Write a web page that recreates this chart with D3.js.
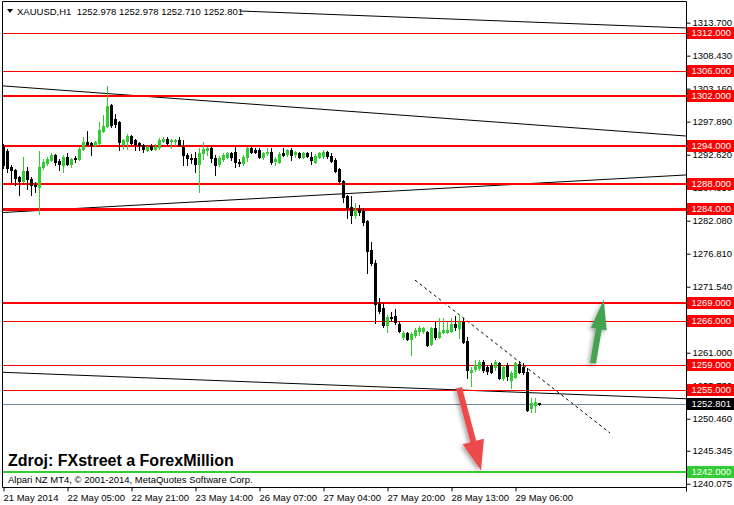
<!DOCTYPE html>
<html><head><meta charset="utf-8">
<script src="https://cdn.jsdelivr.net/npm/d3@7"></script>
<style>
html,body{margin:0;padding:0;background:#fff;}
svg{display:block;}
text{font-family:"Liberation Sans",Arial,sans-serif;}
</style>
</head><body>
<svg id="chart" width="734" height="505"></svg>
<script>
// ---------- DATA ----------
const symbolTitle = "XAUUSD,H1  1252.978 1252.978 1252.710 1252.801";
const opens = [1293.9,1293.2,1290.65,1290.2,1289.05,1288.4,1290.0,1288.7,1287.8,1287.45,
1290.65,1291.3,1291.77,1292.57,1291.6,1290.97,1292.25,1291.1,1292.1,1291.9,
1293.5,1294.65,1294.5,1294.16,1294.5,1296.4,1297.2,1300.55,1298.3,1297.84,
1294.3,1294.8,1295.6,1294.96,1294.5,1294.16,1293.37,1294.0,1293.5,1293.85,
1294.8,1295.1,1294.8,1294.8,1294.96,1293.85,1292.57,1292.1,1292.1,1291.1,
1292.9,1293.37,1293.7,1292.1,1291.1,1291.9,1292.25,1292.9,1293.05,1291.45,
1291.3,1292.25,1293.7,1293.37,1293.37,1292.25,1292.9,1293.05,1291.6,1291.45,
1292.9,1292.7,1293.37,1292.7,1292.9,1292.25,1292.9,1292.25,1291.45,1292.25,
1292.4,1293.05,1292.4,1291.77,1290.35,1288.4,1286.0,1284.27,1283.0,1283.95,
1283.63,1282.0,1277.4,1275.3,1268.77,1268.1,1265.4,1266.7,1266.85,1265.57,
1263.5,1264.14,1263.18,1263.8,1264.45,1264.45,1264.3,1262.38,1264.93,1263.5,
1264.3,1264.3,1264.45,1265.57,1264.93,1265.9,1262.86,1257.9,1258.38,1258.54,
1259.5,1258.7,1259.0,1258.7,1259.34,1256.95,1259.0,1256.63,1257.1,1259.18,
1258.7,1257.9,1252.15,1252.6,1252.978];
const highs = [1294.3,1293.5,1291.0,1290.4,1289.2,1292.25,1290.65,1289.0,1288.3,1293.2,
1291.9,1292.25,1292.9,1292.7,1291.9,1292.5,1292.9,1292.1,1292.4,1293.85,
1295.45,1296.4,1294.65,1294.8,1297.8,1298.96,1303.6,1300.7,1299.1,1298.0,
1295.1,1295.9,1295.76,1295.1,1294.65,1294.3,1294.0,1294.3,1294.3,1295.3,
1295.45,1295.45,1295.1,1295.1,1295.45,1294.96,1292.9,1292.7,1293.05,1293.7,
1294.65,1293.85,1294.0,1292.57,1292.4,1292.9,1293.05,1293.05,1293.85,1291.9,
1292.57,1293.85,1293.85,1293.7,1293.7,1293.05,1293.7,1293.7,1292.25,1293.05,
1293.7,1293.5,1293.7,1293.2,1293.05,1293.05,1293.05,1293.05,1292.7,1293.05,
1293.37,1293.2,1292.9,1292.1,1290.5,1288.58,1286.2,1286.0,1284.9,1284.6,
1284.1,1282.2,1278.67,1275.8,1269.7,1268.9,1267.0,1267.5,1268.0,1265.9,
1264.45,1264.3,1264.3,1264.9,1265.25,1265.1,1264.45,1265.1,1265.9,1266.53,
1266.53,1265.9,1266.53,1266.85,1267.2,1266.53,1263.5,1258.7,1259.82,1259.82,
1259.82,1259.0,1259.34,1259.82,1259.5,1259.0,1259.34,1258.06,1259.5,1259.66,
1259.34,1258.54,1253.75,1253.75,1252.978];
const lows = [1290.5,1289.85,1288.3,1287.8,1286.2,1288.3,1287.1,1286.2,1286.6,1283.15,
1290.35,1291.0,1291.6,1291.0,1290.2,1289.85,1291.0,1290.65,1291.45,1291.77,
1293.37,1294.16,1292.57,1294.0,1294.3,1296.24,1297.0,1297.0,1297.0,1293.37,
1293.5,1293.5,1294.3,1293.37,1293.37,1293.05,1293.2,1293.37,1293.37,1293.5,
1294.65,1294.16,1293.7,1294.16,1294.0,1290.97,1290.97,1291.3,1289.85,1286.65,
1291.9,1292.57,1291.45,1289.38,1290.8,1291.6,1292.1,1291.77,1290.65,1290.8,
1290.97,1291.6,1292.9,1292.9,1292.1,1291.9,1292.57,1291.1,1290.97,1291.3,
1292.4,1292.4,1291.77,1292.25,1292.1,1292.1,1292.25,1291.1,1291.3,1292.1,
1292.1,1292.1,1291.45,1289.85,1288.25,1285.07,1282.5,1281.7,1282.5,1283.0,
1281.39,1273.72,1275.0,1265.74,1267.3,1265.1,1264.3,1266.05,1265.57,1264.3,
1263.18,1263.0,1260.62,1263.5,1263.8,1264.14,1262.1,1262.23,1263.18,1263.3,
1264.14,1264.14,1264.3,1264.61,1263.34,1262.55,1256.95,1255.66,1258.0,1258.22,
1257.9,1257.6,1257.75,1258.22,1256.8,1256.63,1256.63,1255.35,1256.95,1257.75,
1257.6,1251.67,1251.5,1251.5,1252.71];
const closes = [1291.0,1290.5,1290.17,1288.9,1288.4,1290.0,1288.7,1287.8,1287.6,1290.65,
1291.45,1291.9,1292.57,1291.45,1291.1,1292.25,1291.1,1291.9,1291.9,1293.5,
1294.65,1294.3,1294.16,1294.65,1296.56,1297.2,1300.4,1297.36,1297.5,1294.65,
1294.96,1295.6,1294.5,1294.3,1294.16,1293.5,1293.85,1293.5,1293.85,1294.96,
1295.1,1294.5,1294.96,1294.96,1294.16,1292.57,1292.1,1291.9,1291.1,1292.9,
1293.5,1293.7,1292.1,1290.97,1292.1,1292.57,1292.9,1292.25,1291.45,1291.3,
1292.25,1293.7,1293.05,1293.05,1292.25,1292.9,1293.05,1291.45,1291.9,1292.7,
1292.57,1293.37,1292.57,1293.05,1292.25,1292.9,1292.4,1291.77,1292.4,1292.9,
1293.05,1292.4,1291.6,1290.0,1288.4,1285.9,1284.27,1283.0,1283.8,1283.47,
1281.87,1277.24,1275.3,1268.77,1267.65,1265.4,1266.7,1266.5,1265.9,1264.45,
1264.14,1263.18,1263.98,1264.6,1264.93,1264.93,1262.23,1264.93,1263.5,1264.3,
1264.61,1264.61,1265.57,1265.1,1265.9,1262.7,1258.22,1258.22,1259.0,1259.5,
1258.22,1258.06,1257.9,1259.5,1256.95,1258.7,1257.27,1257.75,1259.34,1257.9,
1257.9,1251.83,1252.95,1253.1,1252.801];

// horizontal levels
const redLevels = [1312, 1306, 1302, 1294, 1288, 1284, 1269, 1266, 1259, 1255];
const greenLevel = 1242;
const currentPrice = 1252.801;

// axis ticks
const yTickValues = [1313.700,1308.430,1303.160,1297.890,1292.620,1287.350,1282.080,1276.810,1271.540,1266.270,1261.000,1255.730,1250.460,1245.345,1240.075];
const xTickBars = [0,16,32,48,64,80,96,112,128];
const xTickLabels = ["21 May 2014","22 May 05:00","22 May 21:00","23 May 14:00","26 May 07:00","27 May 04:00","27 May 20:00","28 May 13:00","29 May 06:00"];

// trend lines: [barStart, priceStart, barEnd, priceEnd]
const trendA = [59.25, 1315.56, 170.75, 1312.85];
const trendB = [0, 1303.6, 170.75, 1295.6];
const trendC = [0, 1283.39, 170.75, 1289.38];
const trendD = [0, 1257.87, 170.75, 1253.65];
const trendDashed = [103, 1272.6, 151.75, 1248.18];

// arrows: [barStart, priceStart, barTip, priceTip]
const arrowDown = [114, 1255.4, 119.5, 1242.2];
const arrowUp = [147.5, 1259.3, 150.2, 1269.5];

const sourceText = "Zdroj: FXstreet a ForexMillion";
const copyrightText = "Alpari NZ MT4, © 2001-2014, MetaQuotes Software Corp.";

// ---------- LAYOUT ----------
const L = 2.5, R = 686.5, T = 1.5, B = 487.5;
const x = d3.scaleLinear().domain([0, 170.75]).range([3, 686]);
const y = d3.scaleLinear().domain([1242, 1312]).range([471.7, 33.3]);
const GREEN = "#32CD32", RED = "#FF0000";
const levelWidth = {1312:1,1306:1,1302:2,1294:2,1288:2,1284:3,1269:2,1266:1,1259:1,1255:1};

const svg = d3.select("#chart");
const defs = svg.append("defs");
defs.append("clipPath").attr("id","plot").append("rect")
  .attr("x",L).attr("y",T).attr("width",R-L).attr("height",B-T);
const f = defs.append("filter").attr("id","shadow").attr("x","-50%").attr("y","-50%").attr("width","200%").attr("height","200%");
f.append("feDropShadow").attr("dx",-2).attr("dy",2).attr("stdDeviation",2).attr("flood-color","#000").attr("flood-opacity",0.35);

const plot = svg.append("g").attr("clip-path","url(#plot)");

// trend lines
function trend(t, dashed){
  plot.append("line")
    .attr("x1",x(t[0])).attr("y1",y(t[1])).attr("x2",x(t[2])).attr("y2",y(t[3]))
    .attr("stroke","#000").attr("stroke-width",1)
    .attr("stroke-dasharray", dashed ? "3,3" : null);
}
[trendA,trendB,trendC,trendD].forEach(t=>trend(t,false));
trend(trendDashed,true);

// horizontal levels
redLevels.forEach(v=>{
  const w = levelWidth[v];
  const yy = Math.round(y(v)) + (w%2 ? 0.5 : 0);
  plot.append("line").attr("x1",L).attr("x2",R).attr("y1",yy).attr("y2",yy)
    .attr("stroke",RED).attr("stroke-width",w);
});
{
  const yy = Math.round(y(greenLevel));
  plot.append("line").attr("x1",L).attr("x2",R).attr("y1",yy).attr("y2",yy)
    .attr("stroke",GREEN).attr("stroke-width",2);
  const yc = Math.round(y(currentPrice)) + 0.5;
  plot.append("line").attr("x1",L).attr("x2",R).attr("y1",yc).attr("y2",yc)
    .attr("stroke","#778899").attr("stroke-width",1);
}

// candles
const candles = opens.map((o,i)=>({i, o, h:highs[i], l:lows[i], c:closes[i]}));
const cg = plot.append("g");
candles.forEach(d=>{
  const cx = Math.round(x(d.i));
  const col = d.c > d.o ? GREEN : "#000";
  cg.append("line").attr("x1",cx+0.5).attr("x2",cx+0.5)
    .attr("y1",Math.round(y(d.h))).attr("y2",Math.round(y(d.l))+1)
    .attr("stroke",col).attr("stroke-width",1);
  const y1 = Math.round(y(Math.max(d.o,d.c))), y2 = Math.round(y(Math.min(d.o,d.c)));
  cg.append("rect").attr("x",cx-1).attr("y",y1).attr("width",3).attr("height",Math.max(1,y2-y1+1))
    .attr("fill",col);
});

// arrows
function arrow(a, color, sw, hl, hw){
  const sx=x(a[0]), sy=y(a[1]), tx=x(a[2]), ty=y(a[3]);
  const dx=tx-sx, dy=ty-sy, len=Math.hypot(dx,dy);
  const ux=dx/len, uy=dy/len, nx=-uy, ny=ux;
  const bx=tx-ux*hl, by=ty-uy*hl;
  const pts=[[sx+nx*sw,sy+ny*sw],[bx+nx*sw,by+ny*sw],[bx+nx*hw,by+ny*hw],[tx,ty],
             [bx-nx*hw,by-ny*hw],[bx-nx*sw,by-ny*sw],[sx-nx*sw,sy-ny*sw]];
  svg.append("polygon").attr("points",pts.map(p=>p.join(",")).join(" "))
    .attr("fill",color).attr("filter","url(#shadow)");
}
arrow(arrowDown, "#ec4a4c", 3, 30, 11);
arrow(arrowUp, "#45a34f", 3, 30, 8);

// frame
svg.append("line").attr("x1",L).attr("x2",L).attr("y1",T).attr("y2",B).attr("stroke","#000");
svg.append("line").attr("x1",L).attr("x2",R).attr("y1",T).attr("y2",T).attr("stroke","#000");
svg.append("line").attr("x1",R).attr("x2",R).attr("y1",T).attr("y2",B+4).attr("stroke","#000");
svg.append("line").attr("x1",L).attr("x2",R).attr("y1",B).attr("y2",B).attr("stroke","#000");

// y axis
const yAxis = d3.axisRight(y).tickValues(yTickValues).tickFormat(d=>d.toFixed(3)).tickSize(4).tickPadding(2);
const yg = svg.append("g").attr("transform",`translate(${R},0)`).call(yAxis);
yg.select(".domain").remove();
yg.selectAll("text").attr("font-size","9.5px").attr("fill","#000").attr("font-family","Liberation Sans, Arial, sans-serif");
yg.selectAll("line").attr("stroke","#000");

// x axis
const xAxis = d3.axisBottom(x).tickValues(xTickBars).tickFormat((d,i)=>xTickLabels[i]).tickSize(4).tickPadding(3);
const xg = svg.append("g").attr("transform",`translate(0,${B})`).call(xAxis);
xg.select(".domain").remove();
xg.selectAll("text").attr("font-size","9.5px").attr("fill","#000").attr("text-anchor","start")
  .attr("font-family","Liberation Sans, Arial, sans-serif");
xg.selectAll("line").attr("stroke","#000");
xg.selectAll(".tick").each(function(){ d3.select(this).select("line").attr("transform","translate(0.5,0)"); });

// price labels
function priceLabel(v, bg, fg, txt){
  const yy = Math.round(y(v));
  svg.append("rect").attr("x",R+0.5).attr("y",yy-6).attr("width",734-R).attr("height",12).attr("fill",bg);
  svg.append("text").attr("x",R+5).attr("y",yy).attr("dy","0.35em").attr("font-size","9.5px")
    .attr("fill",fg).text(txt);
}
redLevels.forEach(v=>priceLabel(v, RED, "#fff", v.toFixed(3)));
priceLabel(greenLevel, GREEN, "#fff", greenLevel.toFixed(3));
priceLabel(currentPrice, "#000", "#fff", currentPrice.toFixed(3));

// title
svg.append("path").attr("d","M7,9 L13,9 L10,13 Z").attr("fill","#000");
svg.append("text").attr("x",17).attr("y",14.5).attr("font-size","9.5px").attr("fill","#000")
  .attr("xml:space","preserve").style("white-space","pre").text(symbolTitle);

// texts
svg.append("text").attr("x",8).attr("y",465.5).attr("font-size","16px").attr("font-weight","bold")
  .attr("fill","#000").text(sourceText);
svg.append("text").attr("x",8).attr("y",483).attr("font-size","9.5px").attr("fill","#000").text(copyrightText);
</script>
</body></html>
